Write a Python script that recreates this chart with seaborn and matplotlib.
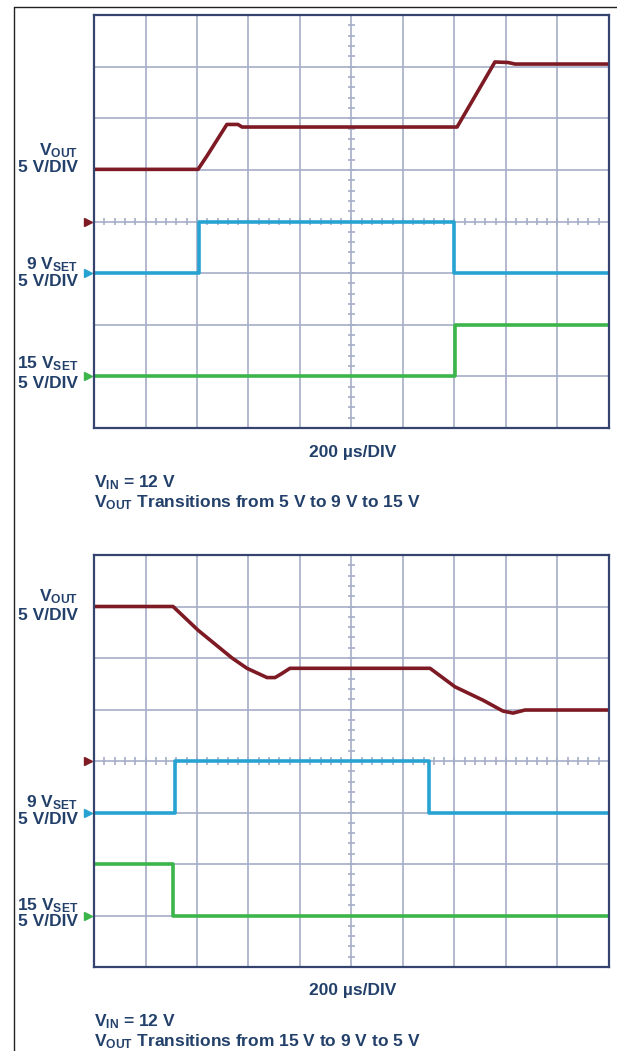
import numpy as np
import matplotlib
matplotlib.use("Agg")
import matplotlib.pyplot as plt
from matplotlib.lines import Line2D
import seaborn as sns

sns.set_style("white")
plt.rcParams["font.family"] = ["Liberation Sans", "DejaVu Sans"]
plt.rcParams["mathtext.fontset"] = "custom"
plt.rcParams["mathtext.rm"] = "Liberation Sans:bold"
plt.rcParams["mathtext.bf"] = "Liberation Sans:bold"

# time in us, voltages in V (scope 5 V/DIV, 200 us/DIV)
# top capture: 5 V -> 9 V -> 15 V
up_vout_t = [0, 404, 440, 516, 559, 575, 1410, 1557, 1608, 1635, 2000]
up_vout_v = [5.05, 5.05, 6.4, 9.4, 9.4, 9.15, 9.15, 15.45, 15.4, 15.25, 15.25]
up_9set_t = [0, 408, 1398, 2000]
up_9set_v = [0, 5, 0, 0]
up_15set_t = [0, 1402, 2000]
up_15set_v = [0, 5, 5]

# bottom capture: 15 V -> 9 V -> 5 V
dn_vout_t = [0, 307, 404, 536, 594, 672, 703, 730, 761, 1305, 1402, 1511, 1588, 1627, 1674, 2000]
dn_vout_v = [15.0, 15.0, 12.7, 10.0, 9.0, 8.1, 8.1, 8.5, 9.0, 9.0, 7.2, 5.9, 4.85, 4.65, 4.95, 4.95]
dn_9set_t = [0, 315, 1301, 2000]
dn_9set_v = [0, 5, 0, 0]
dn_15set_t = [0, 307, 2000]
dn_15set_v = [5, 0, 0]

# ground level (division) of each channel
gnd_vout, gnd_9set, gnd_15set = 4, 3, 1

c_vout = "#7d1a24"
c_9set = "#27a3d2"
c_15set = "#3cb54a"
c_grid = "#a6aec8"
c_frame = "#34446f"
c_text = "#22406a"
fs = 12.5

W, H = 617, 1051
fig = plt.figure(figsize=(W / 100, H / 100), dpi=100)


def fx(px):
    return px / W


def fy(py):
    return 1 - py / H


def scope(top, bottom, vout, s9, s15, title_y, lab_y, trans_txt):
    ax = fig.add_axes([fx(94), fy(bottom), fx(609) - fx(94), fy(top) - fy(bottom)])
    ax.set_xlim(0, 2000)
    ax.set_ylim(0, 8)
    ax.set_xticks(np.arange(0, 2001, 200))
    ax.set_yticks(np.arange(0, 9, 1))
    ax.grid(True, color=c_grid, lw=1.2)
    ax.tick_params(length=0, labelbottom=False, labelleft=False)
    for s in ax.spines.values():
        s.set_color(c_frame)
        s.set_linewidth(1.6)
    # minor ticks on the centre cross
    mx = np.arange(0, 2001, 40)
    ax.vlines(mx, 4 - 0.07, 4 + 0.07, color=c_grid, lw=1.2)
    my = np.arange(0, 8.01, 0.2)
    ax.hlines(my, 1000 - 12, 1000 + 12, color=c_grid, lw=1.2)

    for (t, v), gnd, col in [(vout, gnd_vout, c_vout), (s9, gnd_9set, c_9set), (s15, gnd_15set, c_15set)]:
        y = gnd + np.array(v) / 5.0
        if col == c_vout:
            sns.lineplot(x=t, y=y, ax=ax, color=col, lw=2.6, estimator=None, sort=False)
        else:
            sns.lineplot(x=t, y=y, ax=ax, color=col, lw=2.6, estimator=None, sort=False,
                         drawstyle="steps-post")
        ax.plot([-0.012], [gnd], marker=">", ms=5.5, color=col, clip_on=False,
                transform=ax.get_yaxis_transform(), ls="none")

    # channel labels
    for (y1, y2), name in zip(lab_y, [r"$\mathbf{V_{OUT}}$", r"9 $\mathbf{V_{SET}}$", r"15 $\mathbf{V_{SET}}$"]):
        fig.text(fx(78), fy(y1), name, ha="right", va="center", fontsize=fs,
                 fontweight="bold", color=c_text)
        fig.text(fx(78), fy(y2), "5 V/DIV", ha="right", va="center", fontsize=fs,
                 fontweight="bold", color=c_text)

    fig.text(fx(353), fy(title_y), "200 µs/DIV", ha="center", va="center", fontsize=fs,
             fontweight="bold", color=c_text)
    fig.text(fx(94), fy(title_y + 31), r"$\mathbf{V_{IN}}$ = 12 V", ha="left", va="center",
             fontsize=fs, fontweight="bold", color=c_text)
    fig.text(fx(94), fy(title_y + 51), r"$\mathbf{V_{OUT}}$ " + trans_txt, ha="left",
             va="center", fontsize=fs, fontweight="bold", color=c_text)
    return ax


scope(15, 428, (up_vout_t, up_vout_v), (up_9set_t, up_9set_v), (up_15set_t, up_15set_v),
      452, [(151, 168), (265, 281), (364, 383)], "Transitions from 5 V to 9 V to 15 V")
scope(555, 967, (dn_vout_t, dn_vout_v), (dn_9set_t, dn_9set_v), (dn_15set_t, dn_15set_v),
      991, [(597, 615), (803, 820), (906, 922)], "Transitions from 15 V to 9 V to 5 V")

# outer frame
fig.add_artist(Line2D([fx(14), fx(14)], [fy(7), 0], color="#222222", lw=1.0))
fig.add_artist(Line2D([fx(14), 1], [fy(7), fy(7)], color="#222222", lw=1.0))

fig.savefig("out.png", dpi=100)
